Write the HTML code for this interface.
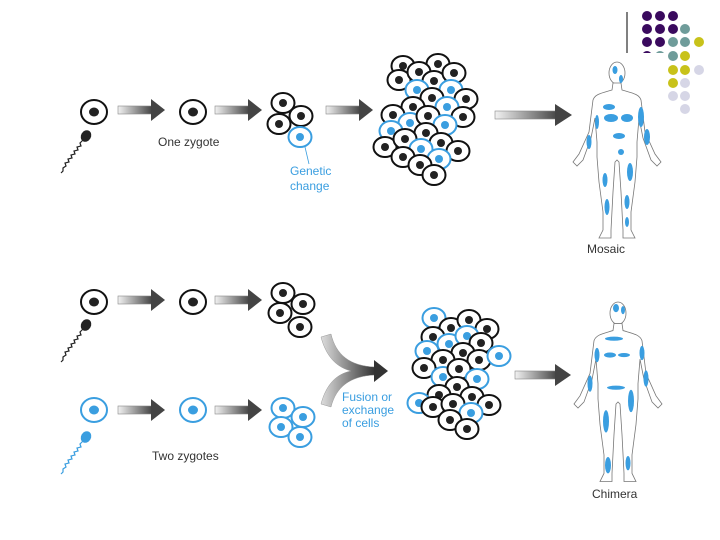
<!DOCTYPE html>
<html><head><style>
body{margin:0;background:#fff;}
svg{display:block;}
text{font-family:"Liberation Sans",sans-serif;font-size:12px;fill:#333;}
</style></head><body>
<svg width="720" height="540" viewBox="0 0 720 540" xmlns="http://www.w3.org/2000/svg">
<defs>
<linearGradient id="g" x1="0" x2="1" y1="0" y2="0"><stop offset="0" stop-color="#f2f2f2"/><stop offset="1" stop-color="#444"/></linearGradient>
<linearGradient id="gc" x1="0" x2="1" y1="0" y2="0"><stop offset="0" stop-color="#ddd"/><stop offset="1" stop-color="#333"/></linearGradient>
<g id="bc"><ellipse rx="11.5" ry="10" fill="#fff" stroke="#111" stroke-width="2"/><circle r="4" fill="#222"/></g>
<g id="uc"><ellipse rx="11.5" ry="10" fill="#fff" stroke="#3a9ee0" stroke-width="2"/><circle r="4" fill="#3a9ee0"/></g>
<g id="z"><ellipse rx="13" ry="12" fill="#fff" stroke="#111" stroke-width="2"/><ellipse rx="5" ry="4.5" fill="#222"/></g>
<g id="zb"><ellipse rx="13" ry="12" fill="#fff" stroke="#3a9ee0" stroke-width="2"/><ellipse rx="5" ry="4.5" fill="#3a9ee0"/></g>
<g id="ar"><rect x="0" y="-4" width="34" height="8" fill="url(#g)" stroke="#888" stroke-width="0.6"/><path d="M33,-11 L47,0 L33,11 Z" fill="#444"/></g>
<path id="tail" d="M0,0 l-3,3 l1,3 l-4,1 l1,3 l-4,1 l1,3 l-4,1 l1,3 l-4,1 l1,3 l-4,1 l1,3 l-3,2 l0,3 l-2,2" fill="none" stroke-width="1.2"/>
<g id="body"><ellipse cx="0" cy="11" rx="8" ry="11" fill="#fff" stroke="#777" stroke-width="0.8"/>
<path d="M-4,21 L-5,28 C-15,31 -22,32 -24,38 L-28,70 L-38,92 L-44,100 L-40,104 L-34,98 L-26,76 L-22,56 L-20,80 L-20,95 L-18,120 L-14,150 L-14,168 L-18,176 L-6,176 L-6,168 L-4,130 L-2,100 L0,98 L2,100 L4,130 L6,168 L6,176 L18,176 L14,168 L14,150 L18,120 L20,95 L20,80 L22,56 L26,76 L34,98 L40,104 L44,100 L38,92 L28,70 L24,38 C22,32 15,31 5,28 L4,21 Z" fill="#fff" stroke="#777" stroke-width="0.8"/></g>
</defs>

<line x1="627" y1="12" x2="627" y2="53" stroke="#000" stroke-width="1"/>
<g>
<circle cx="647" cy="16" r="5" fill="#3a0a5e"/><circle cx="660" cy="16" r="5" fill="#3a0a5e"/><circle cx="673" cy="16" r="5" fill="#3a0a5e"/>
<circle cx="647" cy="29" r="5" fill="#3a0a5e"/><circle cx="660" cy="29" r="5" fill="#3a0a5e"/><circle cx="673" cy="29" r="5" fill="#3a0a5e"/><circle cx="685" cy="29" r="5" fill="#6f9c9a"/>
<circle cx="647" cy="42" r="5" fill="#3a0a5e"/><circle cx="660" cy="42" r="5" fill="#3a0a5e"/><circle cx="673" cy="42" r="5" fill="#6f9c9a"/><circle cx="685" cy="42" r="5" fill="#6f9c9a"/><circle cx="699" cy="42" r="5" fill="#c8c21a"/>
<circle cx="647" cy="56" r="5" fill="#3a0a5e"/><circle cx="660" cy="56" r="5" fill="#6f9c9a"/>
<rect x="640" y="53" width="28" height="10" fill="#fff"/>
<circle cx="673" cy="56" r="5" fill="#6f9c9a"/><circle cx="685" cy="56" r="5" fill="#c8c21a"/>
<circle cx="673" cy="70" r="5" fill="#c8c21a"/><circle cx="685" cy="70" r="5" fill="#c8c21a"/><circle cx="699" cy="70" r="5" fill="#d6d6e6"/>
<circle cx="673" cy="83" r="5" fill="#c8c21a"/><circle cx="685" cy="83" r="5" fill="#d6d6e6"/>
<circle cx="673" cy="96" r="5" fill="#d6d6e6"/><circle cx="685" cy="96" r="5" fill="#d6d6e6"/>
<circle cx="685" cy="109" r="5" fill="#d6d6e6"/>
</g>

<use href="#z" x="94" y="112"/>
<ellipse cx="86" cy="136" rx="5" ry="6" fill="#222" transform="rotate(30 86 136)"/>
<use href="#tail" x="83" y="140" stroke="#222"/>
<use href="#ar" x="118" y="110"/>
<use href="#z" x="193" y="112"/>
<text x="158" y="146">One zygote</text>
<use href="#ar" x="215" y="110"/>
<use href="#bc" x="283" y="103"/><use href="#bc" x="301" y="116"/><use href="#bc" x="279" y="124"/><use href="#uc" x="300" y="137"/>
<line x1="305" y1="147" x2="309" y2="164" stroke="#3a9ee0" stroke-width="0.8"/>
<text x="290" y="175" style="fill:#3a9ee0">Genetic</text><text x="290" y="190" style="fill:#3a9ee0">change</text>
<use href="#ar" x="326" y="110"/>
<g>
<use href="#bc" x="403" y="66"/><use href="#bc" x="438" y="64"/><use href="#bc" x="399" y="80"/><use href="#bc" x="419" y="72"/><use href="#bc" x="434" y="81"/><use href="#bc" x="454" y="73"/>
<use href="#uc" x="417" y="90"/><use href="#uc" x="451" y="90"/><use href="#bc" x="432" y="98"/><use href="#bc" x="466" y="99"/><use href="#bc" x="413" y="107"/><use href="#uc" x="447" y="107"/>
<use href="#bc" x="393" y="115"/><use href="#uc" x="410" y="123"/><use href="#bc" x="428" y="116"/><use href="#bc" x="463" y="117"/><use href="#uc" x="445" y="125"/><use href="#uc" x="391" y="131"/>
<use href="#bc" x="426" y="133"/><use href="#bc" x="385" y="147"/><use href="#bc" x="405" y="139"/><use href="#bc" x="441" y="143"/><use href="#bc" x="458" y="151"/><use href="#uc" x="421" y="149"/>
<use href="#uc" x="439" y="159"/><use href="#bc" x="403" y="157"/><use href="#bc" x="420" y="165"/><use href="#bc" x="434" y="175"/>
</g>
<g transform="translate(495,115)"><rect x="0" y="-4" width="63" height="8" fill="url(#g)" stroke="#888" stroke-width="0.6"/><path d="M60,-11 L77,0 L60,11 Z" fill="#444"/></g>
<g transform="translate(617,62)"><use href="#body"/>
<g fill="#3a9ee0"><ellipse cx="-2" cy="8" rx="2.5" ry="4"/><ellipse cx="4" cy="17" rx="2" ry="4"/><ellipse cx="-8" cy="45" rx="6" ry="3"/><ellipse cx="-6" cy="56" rx="7" ry="4"/><ellipse cx="10" cy="56" rx="6" ry="4"/><ellipse cx="-20" cy="60" rx="2" ry="7"/><ellipse cx="24" cy="55" rx="3" ry="10"/><ellipse cx="30" cy="75" rx="3" ry="8"/><ellipse cx="-28" cy="80" rx="2.5" ry="7"/><ellipse cx="2" cy="74" rx="6" ry="3"/><ellipse cx="4" cy="90" rx="3" ry="3"/><ellipse cx="13" cy="110" rx="3" ry="9"/><ellipse cx="-12" cy="118" rx="2.5" ry="7"/><ellipse cx="-10" cy="145" rx="2.5" ry="8"/><ellipse cx="10" cy="140" rx="2.5" ry="7"/><ellipse cx="10" cy="160" rx="2" ry="5"/></g></g>
<text x="587" y="253">Mosaic</text>

<use href="#z" x="94" y="302"/>
<ellipse cx="86" cy="325" rx="5" ry="6" fill="#222" transform="rotate(30 86 325)"/>
<use href="#tail" x="83" y="329" stroke="#222"/>
<use href="#ar" x="118" y="300"/>
<use href="#z" x="193" y="302"/>
<use href="#ar" x="215" y="300"/>
<use href="#bc" x="283" y="293"/><use href="#bc" x="303" y="304"/><use href="#bc" x="280" y="313"/><use href="#bc" x="300" y="327"/>

<use href="#zb" x="94" y="410"/>
<ellipse cx="86" cy="437" rx="5" ry="6" fill="#3a9ee0" transform="rotate(30 86 437)"/>
<use href="#tail" x="83" y="441" stroke="#3a9ee0"/>
<use href="#ar" x="118" y="410"/>
<use href="#zb" x="193" y="410"/>
<use href="#ar" x="215" y="410"/>
<use href="#uc" x="283" y="408"/><use href="#uc" x="303" y="417"/><use href="#uc" x="281" y="427"/><use href="#uc" x="300" y="437"/>
<text x="152" y="460">Two zygotes</text>

<path d="M321,337 L331,334 C336,355 350,366 375,367 L375,375 C350,376 336,387 331,407 L321,404 C326,385 336,374 351,371 C336,367 326,356 321,337 Z" fill="url(#gc)" stroke="#999" stroke-width="0.5"/>
<path d="M374,360 L388,371 L374,382 Z" fill="#333"/>
<text x="342" y="401" style="fill:#3a9ee0">Fusion or</text><text x="342" y="414" style="fill:#3a9ee0">exchange</text><text x="342" y="427" style="fill:#3a9ee0">of cells</text>

<g>
<use href="#uc" x="434" y="318"/><use href="#bc" x="451" y="328"/><use href="#bc" x="469" y="320"/><use href="#bc" x="487" y="329"/><use href="#bc" x="433" y="337"/><use href="#uc" x="449" y="344"/><use href="#uc" x="467" y="336"/><use href="#bc" x="481" y="343"/>
<use href="#uc" x="427" y="351"/><use href="#bc" x="463" y="353"/><use href="#bc" x="443" y="360"/><use href="#bc" x="479" y="360"/><use href="#uc" x="499" y="356"/><use href="#bc" x="424" y="368"/><use href="#uc" x="443" y="377"/><use href="#bc" x="459" y="369"/>
<use href="#uc" x="477" y="379"/><use href="#bc" x="457" y="387"/><use href="#bc" x="439" y="395"/><use href="#bc" x="472" y="397"/><use href="#uc" x="419" y="403"/><use href="#bc" x="433" y="407"/><use href="#bc" x="453" y="404"/><use href="#bc" x="489" y="405"/>
<use href="#uc" x="471" y="413"/><use href="#bc" x="450" y="420"/><use href="#bc" x="467" y="429"/>
</g>
<g transform="translate(515,375)"><rect x="0" y="-4" width="42" height="8" fill="url(#g)" stroke="#888" stroke-width="0.6"/><path d="M40,-11 L56,0 L40,11 Z" fill="#444"/></g>
<g transform="translate(618,302) scale(1,1.02)"><use href="#body"/>
<g fill="#3a9ee0"><ellipse cx="-2" cy="6" rx="3" ry="4"/><ellipse cx="5" cy="8" rx="2" ry="4"/><ellipse cx="-4" cy="36" rx="9" ry="2"/><ellipse cx="-8" cy="52" rx="6" ry="2.5"/><ellipse cx="6" cy="52" rx="6" ry="2"/><ellipse cx="-21" cy="52" rx="2.5" ry="7"/><ellipse cx="24" cy="50" rx="2.5" ry="7"/><ellipse cx="-28" cy="80" rx="2.5" ry="8"/><ellipse cx="28" cy="75" rx="2.5" ry="8"/><ellipse cx="-2" cy="84" rx="9" ry="2"/><ellipse cx="13" cy="97" rx="3" ry="11"/><ellipse cx="-12" cy="117" rx="3" ry="11"/><ellipse cx="-10" cy="160" rx="3" ry="8"/><ellipse cx="10" cy="158" rx="2.5" ry="7"/></g></g>
<text x="592" y="498">Chimera</text>
</svg>
</body></html>
